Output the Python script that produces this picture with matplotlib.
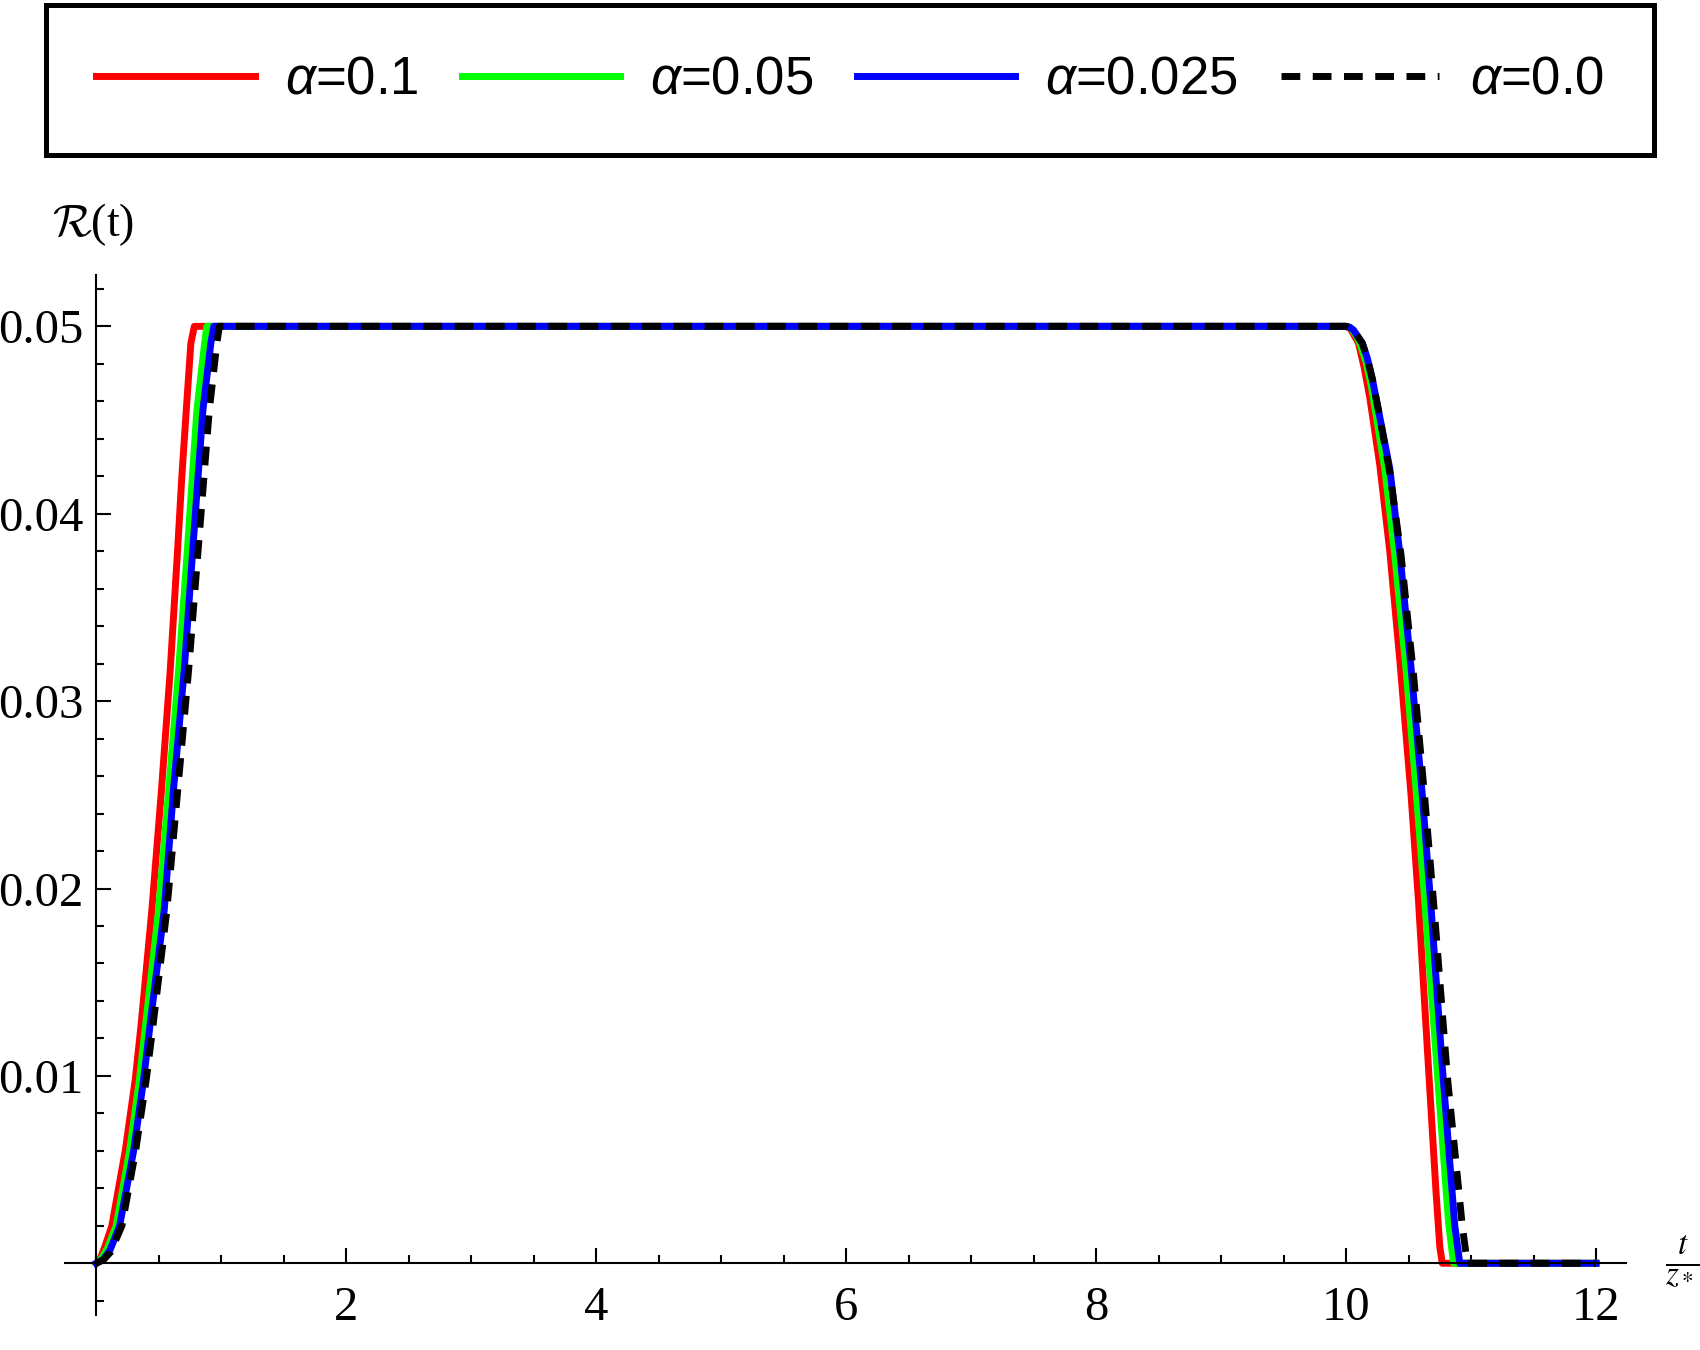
import matplotlib
matplotlib.use('Agg')
import matplotlib.pyplot as plt
from matplotlib.ticker import FixedLocator, MultipleLocator, FixedFormatter

# values (t in units of z*, R(t))
labels = ['0.1', '0.05', '0.025', '0.0']

red_t = [0.0, 0.035, 0.07, 0.125, 0.232, 0.312, 0.36, 0.445, 0.522, 0.592, 0.651, 0.685, 0.72, 0.757, 0.785,
         10.0, 10.03, 10.05, 10.1, 10.145, 10.19, 10.27, 10.35, 10.43, 10.52, 10.58, 10.65, 10.72, 10.75, 10.77, 12.0]
red_r = [0.0, 0.0003, 0.0009, 0.002, 0.006, 0.0098, 0.0128, 0.01885, 0.02526, 0.03166, 0.03806, 0.042, 0.0455, 0.0491, 0.05,
         0.05, 0.0499, 0.0497, 0.0491, 0.0478, 0.0462, 0.0426, 0.038, 0.0322, 0.025, 0.0193, 0.0115, 0.0038, 0.0009, 0.0, 0.0]

green_t = [0.0, 0.045, 0.09, 0.16, 0.267, 0.344, 0.396, 0.499, 0.58, 0.659, 0.729, 0.805, 0.867, 0.885,
           10.0, 10.03, 10.05, 10.08, 10.11, 10.16, 10.2, 10.23, 10.31, 10.39, 10.48, 10.56, 10.63, 10.73, 10.82, 10.86, 12.0]
green_r = [0.0, 0.0003, 0.0008, 0.002, 0.006, 0.0097, 0.0128, 0.01885, 0.02526, 0.03166, 0.03806, 0.0455, 0.0491, 0.05,
           0.05, 0.04995, 0.0498, 0.0495, 0.0491, 0.0481, 0.0469, 0.0457, 0.0424, 0.0378, 0.0317, 0.0253, 0.0193, 0.0102, 0.0022, 0.0, 0.0]

blue_t = [0.0, 0.055, 0.11, 0.187, 0.299, 0.379, 0.43, 0.544, 0.618, 0.704, 0.772, 0.853, 0.917, 0.94,
          10.0, 10.03, 10.06, 10.09, 10.13, 10.17, 10.21, 10.26, 10.35, 10.43, 10.52, 10.61, 10.68, 10.77, 10.87, 10.91, 12.0]
blue_r = [0.0, 0.0002, 0.0007, 0.002, 0.006, 0.0098, 0.0127, 0.01885, 0.02526, 0.03166, 0.03806, 0.0455, 0.0491, 0.05,
          0.05, 0.04995, 0.0498, 0.0495, 0.0491, 0.0483, 0.0472, 0.0455, 0.0424, 0.0379, 0.0318, 0.025, 0.019, 0.0105, 0.002, 0.0, 0.0]

black_t = [0.0, 0.06, 0.115, 0.205, 0.315, 0.4, 0.456, 0.565, 0.652, 0.739, 0.815, 0.904, 0.965, 0.985,
           10.0, 10.03, 10.06, 10.09, 10.13, 10.17, 10.21, 10.26, 10.35, 10.44, 10.54, 10.63, 10.71, 10.81, 10.93, 10.97, 12.0]
black_r = [0.0, 0.0002, 0.0006, 0.002, 0.006, 0.0098, 0.0128, 0.01885, 0.02526, 0.03166, 0.03806, 0.0455, 0.0491, 0.05,
           0.05, 0.04995, 0.0498, 0.0495, 0.0491, 0.0483, 0.0472, 0.0455, 0.0422, 0.0378, 0.0314, 0.0248, 0.0185, 0.01, 0.002, 0.0, 0.0]

x_major = [2, 4, 6, 8, 10, 12]
y_major = [0.01, 0.02, 0.03, 0.04, 0.05]
y_major_labels = ['0.01', '0.02', '0.03', '0.04', '0.05']

plt.rcParams['mathtext.fontset'] = 'custom'
plt.rcParams['mathtext.it'] = 'Liberation Sans:italic'
plt.rcParams['mathtext.rm'] = 'Liberation Sans'

fig = plt.figure(figsize=(17, 13.5), dpi=100)
ax = fig.add_axes([65 / 1700, 35 / 1350, (1626 - 65) / 1700, (1315 - 275) / 1350])

lw = 5
ax.plot(red_t, red_r, color='#ff0000', lw=lw, label=r'$\alpha$=' + labels[0])
ax.plot(green_t, green_r, color='#00ff00', lw=lw, label=r'$\alpha$=' + labels[1])
ax.plot(blue_t, blue_r, color='#0000ff', lw=lw, label=r'$\alpha$=' + labels[2])
ax.plot(black_t, black_r, color='black', lw=lw, dashes=(2.7, 1.8), label=r'$\alpha$=' + labels[3])

ax.set_xlim(-0.25, 12.24)
ax.set_ylim(-0.00276, 0.05274)

# Mathematica style axes crossing at the origin
for s in ['top', 'right']:
    ax.spines[s].set_visible(False)
ax.spines['left'].set_position(('data', 0))
ax.spines['bottom'].set_position(('data', 0))
for s in ['left', 'bottom']:
    ax.spines[s].set_linewidth(1.5)

ax.xaxis.set_major_locator(FixedLocator(x_major))
ax.xaxis.set_minor_locator(MultipleLocator(0.5))
ax.yaxis.set_major_locator(FixedLocator(y_major))
ax.yaxis.set_major_formatter(FixedFormatter(y_major_labels))
ax.yaxis.set_minor_locator(MultipleLocator(0.002))

ax.tick_params(axis='both', which='both', direction='in', width=1.5)
ax.tick_params(axis='both', which='major', length=11)
ax.tick_params(axis='both', which='minor', length=6)
ax.tick_params(axis='x', which='major', pad=16)
ax.tick_params(axis='y', which='major', pad=9)
for lab in ax.get_xticklabels() + ax.get_yticklabels():
    lab.set_fontfamily('Liberation Serif')
    lab.set_fontsize(35)

# axis labels
fig.text(93 / 1700, 1 - 225 / 1350, r'$\mathcal{R}$(t)', family='Liberation Serif',
         math_fontfamily='cm', fontsize=33, ha='center', va='center')
fig.text(1682 / 1700, 1 - 1262 / 1350, r'$\frac{t}{z_*}$', math_fontfamily='stix',
         fontsize=34, ha='center', va='center')

leg = fig.legend(loc='center', bbox_to_anchor=(0.5, 1 - 80 / 1350), ncol=4,
                 prop={'family': 'Liberation Sans', 'size': 38},
                 handlelength=3.0, handletextpad=0.57, columnspacing=0.82,
                 borderpad=0.95, fancybox=False, framealpha=1, edgecolor='black')
leg.get_frame().set_linewidth(3.6)

fig.savefig('out.png', dpi=100)
